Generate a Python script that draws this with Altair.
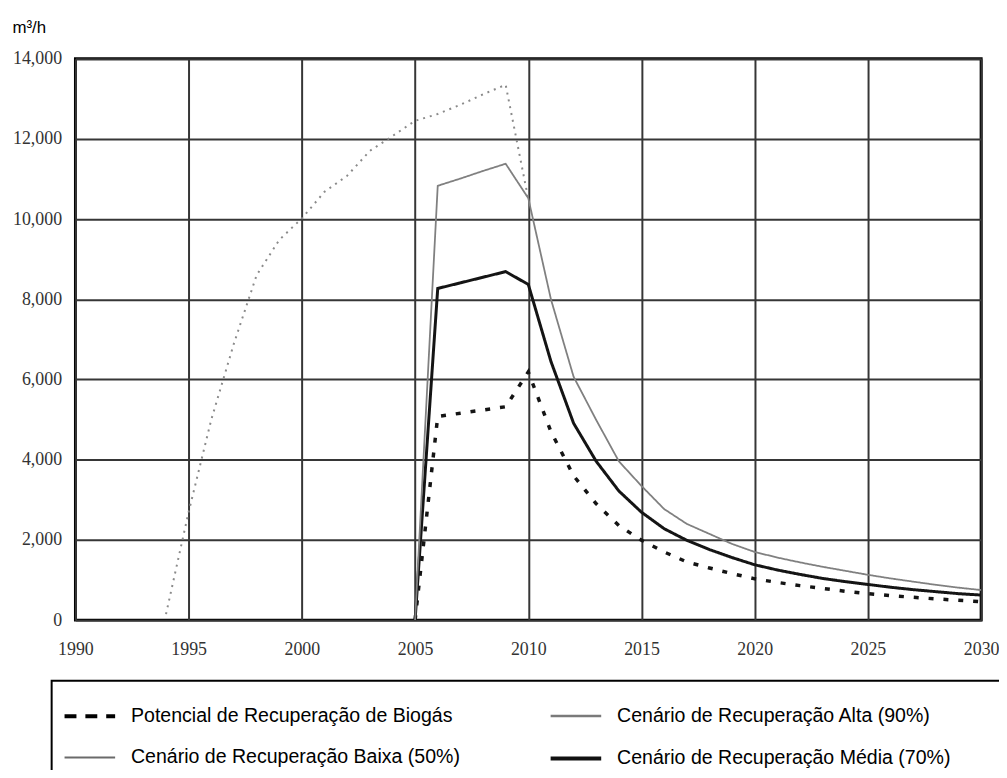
import altair as alt
import pandas as pd

# ---- data ----
pot_years = list(range(1994, 2011))
pot_values = [150, 2700, 5000, 6900, 8600, 9480, 10020, 10680, 11080, 11700,
              12070, 12450, 12620, 12850, 13110, 13350, 10500]

rec_years = list(range(2005, 2031))
alta_values = [0, 10830, 11010, 11200, 11380, 10520, 8000, 6070, 4990, 3960,
               3345, 2770, 2400, 2150, 1900, 1700, 1560, 1440, 1330, 1230,
               1130, 1040, 960, 880, 810, 750]
media_values = [0, 8270, 8410, 8550, 8690, 8370, 6450, 4910, 3960, 3220,
                2690, 2280, 1990, 1760, 1560, 1380, 1250, 1140, 1040, 960,
                890, 820, 760, 710, 660, 625]
baixa_values = [0, 5080, 5160, 5240, 5320, 6190, 4700, 3600, 2900, 2360,
                1990, 1700, 1450, 1300, 1160, 1030, 940, 860, 790, 720,
                660, 610, 570, 530, 495, 460]

S_POT = "Potencial de Recuperação de Biogás"
S_ALTA = "Cenário de Recuperação Alta (90%)"
S_BAIXA = "Cenário de Recuperação Baixa (50%)"
S_MEDIA = "Cenário de Recuperação Média (70%)"
# legend entries are laid out column by column
series_order = [S_POT, S_BAIXA, S_ALTA, S_MEDIA]

x_ticks = list(range(1990, 2031, 5))
y_ticks = list(range(0, 14001, 2000))

frames = [
    pd.DataFrame({"serie": S_POT, "ano": pot_years, "valor": pot_values}),
    pd.DataFrame({"serie": S_BAIXA, "ano": rec_years, "valor": baixa_values}),
    pd.DataFrame({"serie": S_MEDIA, "ano": rec_years, "valor": media_values}),
    pd.DataFrame({"serie": S_ALTA, "ano": rec_years, "valor": alta_values}),
]
df = pd.concat(frames, ignore_index=True)

# line styles in the plot (order of series_order)
line_colors = ["#8a8a8a", "#141414", "#808080", "#141414"]
line_dashes = [[2, 5], [5, 10], [1, 0], [1, 0]]
line_widths = [2, 3.5, 1.8, 3]

# symbol styles as printed in the legend box (order of series_order)
leg_colors = ["#000000", "#6a6a6a", "#7a7a7a", "#111111"]
leg_dashes = [[12, 9], [1, 0], [1, 0], [1, 0]]
leg_widths = [4, 2, 2.5, 4]

x_enc = alt.X("ano:Q",
              scale=alt.Scale(domain=[1990, 2030], nice=False, zero=False),
              axis=alt.Axis(values=x_ticks, format="d", title=None,
                            labelFont="Liberation Serif", labelFontSize=18,
                            labelColor="#333333", labelPadding=21,
                            labelFlush=False, labelOverlap=False,
                            ticks=False, domain=False,
                            grid=True, gridColor="#363636", gridWidth=2,
                            gridOpacity=1))
y_enc = alt.Y("valor:Q",
              scale=alt.Scale(domain=[0, 14000], nice=False),
              axis=alt.Axis(values=y_ticks, format=",d", title="m³/h",
                            titleAngle=0, titleX=-64, titleY=-26,
                            titleAlign="left", titleBaseline="alphabetic",
                            titleFont="Liberation Sans", titleFontSize=17,
                            titleFontWeight="normal", titleColor="#000000",
                            labelFont="Liberation Serif", labelFontSize=18,
                            labelColor="#333333", labelPadding=14,
                            labelOverlap=False,
                            ticks=False, domain=False,
                            grid=True, gridColor="#363636", gridWidth=2,
                            gridOpacity=1))

lines = alt.Chart(df).mark_line(clip=True).encode(
    x=x_enc,
    y=y_enc,
    color=alt.Color("serie:N",
                    scale=alt.Scale(domain=series_order, range=line_colors),
                    legend=None),
    strokeDash=alt.StrokeDash("serie:N",
                              scale=alt.Scale(domain=series_order,
                                              range=line_dashes),
                              legend=None),
    strokeWidth=alt.StrokeWidth("serie:N",
                                scale=alt.Scale(type="ordinal",
                                                domain=series_order,
                                                range=line_widths),
                                legend=None),
)

leg = alt.Legend(
    orient="none", legendX=-13, legendY=635,
    title=None, columns=2, padding=0,
    columnPadding=83, rowPadding=5,
    symbolType="stroke", symbolSize=2600,
    labelOffset=14, labelFont="Liberation Sans",
    labelFontSize=19.7, labelColor="#000000", labelLimit=0,
)

legend_df = pd.DataFrame({"legenda": series_order,
                          "ano": [float("nan")] * 4,
                          "valor": [float("nan")] * 4})

legend_layer = alt.Chart(legend_df).mark_line().encode(
    x=x_enc,
    y=y_enc,
    color=alt.Color("legenda:N",
                    scale=alt.Scale(domain=series_order, range=leg_colors),
                    legend=leg),
    strokeDash=alt.StrokeDash("legenda:N",
                              scale=alt.Scale(domain=series_order,
                                              range=leg_dashes),
                              legend=leg),
    strokeWidth=alt.StrokeWidth("legenda:N",
                                scale=alt.Scale(type="ordinal",
                                                domain=series_order,
                                                range=leg_widths),
                                legend=leg),
)

box = alt.Chart(pd.DataFrame({"k": [0]})).mark_rect(
    fill=None, stroke="#000000", strokeWidth=2
).encode(x=alt.value(-24), x2=alt.value(960),
         y=alt.value(627), y2=alt.value(760))

chart = alt.layer(lines, legend_layer, box).resolve_scale(
    color="independent", strokeDash="independent", strokeWidth="independent"
).properties(
    width=913, height=566,
    autosize=alt.AutoSizeParams(type="none"),
    padding={"left": 68, "top": 48, "right": 18, "bottom": 148},
).configure_view(stroke="#000000", strokeWidth=3)

chart.save("out.html", embed_options={"renderer": "svg", "actions": False})
